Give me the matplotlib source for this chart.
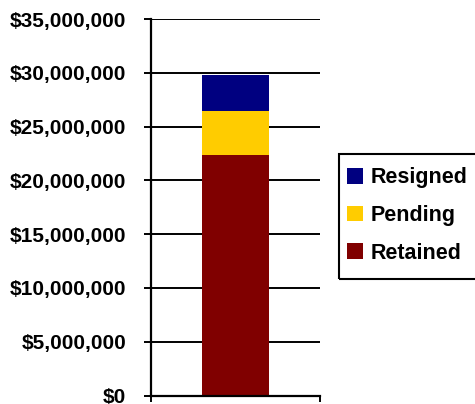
import matplotlib
matplotlib.use("Agg")
import matplotlib.pyplot as plt
from matplotlib.ticker import FuncFormatter
from matplotlib.patches import Patch, Rectangle

categories = [""]
series_names = ["Retained", "Pending", "Resigned"]
retained = [22_350_000]
pending = [4_100_000]
resigned = [3_330_000]
colors = ["#800000", "#FFCC00", "#000080"]
yticks = [0, 5e6, 10e6, 15e6, 20e6, 25e6, 30e6, 35e6]

plt.rcParams['font.family'] = ['Liberation Sans', 'DejaVu Sans']
fig = plt.figure(figsize=(4.75, 4.04), dpi=100)
ax = fig.add_axes([151/475, 1-395.5/404, 169/475, (395.5-19)/404])

x = [0]
bottom = [0]
for name, vals, c in zip(series_names, [retained, pending, resigned], colors):
    ax.bar(x, vals, width=0.4, bottom=bottom, color=c, label=name, zorder=3)
    bottom = [b + v for b, v in zip(bottom, vals)]

ax.set_xlim(-0.5, 0.5)
ax.set_ylim(0, 35e6)
ax.set_yticks(yticks)
ax.yaxis.set_major_formatter(FuncFormatter(lambda v, p: "${:,.0f}".format(v)))
ax.grid(axis='y', color='black', linewidth=1.4, zorder=0)
ax.set_xticks([-0.5, 0.5])
ax.set_xticklabels(["", ""])
ax.tick_params(axis='x', direction='out', length=4, width=1.4, color='black')
ax.tick_params(axis='y', direction='out', length=5, width=1.4, color='black', pad=13)
for lab in ax.get_yticklabels():
    lab.set_fontsize(15)
    lab.set_fontweight('bold')
for s in ['top', 'right']:
    ax.spines[s].set_visible(False)
for s in ['left', 'bottom']:
    ax.spines[s].set_linewidth(1.6)
    ax.spines[s].set_zorder(4)

handles = [Patch(facecolor=colors[2], label="Resigned"),
           Patch(facecolor=colors[1], label="Pending"),
           Patch(facecolor=colors[0], label="Retained")]
leg = fig.legend(handles=handles, loc='center left',
                 bbox_to_anchor=(347/475, 1-215.5/404),
                 prop={'weight': 'bold', 'size': 15.5},
                 frameon=False,
                 handlelength=0.75, handleheight=0.75, handletextpad=0.37,
                 labelspacing=0.78, borderpad=0, borderaxespad=0)
fig.patches.append(Rectangle((339/475, 1-279/404), 140/475, 125/404,
                             transform=fig.transFigure, fill=False,
                             edgecolor='black', linewidth=1.5))

fig.savefig("out.png", dpi=100)
